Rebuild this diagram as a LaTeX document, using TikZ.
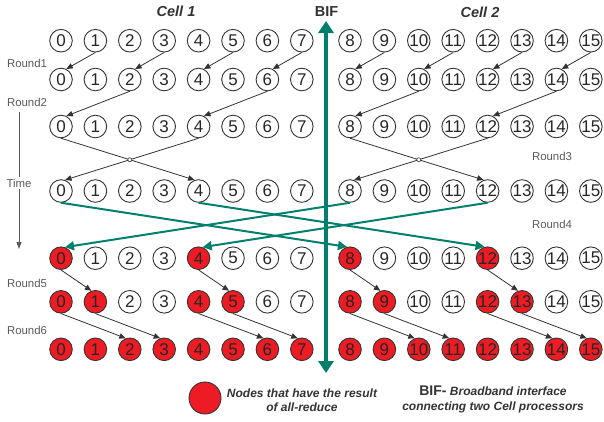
\documentclass[tikz,border=0pt]{standalone}
\usepackage{fontspec}
\setmainfont{Liberation Sans}
\usetikzlibrary{arrows.meta,intersections}
\definecolor{bifteal}{RGB}{0,128,108}
\definecolor{hotred}{RGB}{237,28,36}
\definecolor{inkgray}{RGB}{51,51,51}
\definecolor{labelgray}{RGB}{90,90,90}
% zero-width box so the digits never widen the circles
\newcommand\ctrtxt[1]{\makebox[0pt][c]{#1}}

\begin{document}
\begin{tikzpicture}[x=1pt,y=-1pt,
  pnode/.style={circle,draw=inkgray,line width=0.9pt,minimum size=22.6pt,
    inner sep=0pt,font=\fontsize{17}{17}\selectfont,text=black!85},
  rnode/.style={pnode,fill=hotred},
  darr/.style={draw=inkgray,line width=0.8pt,-{Triangle[length=6.5pt,width=5.5pt]}},
  tarr/.style={draw=bifteal,line width=2pt,-{Triangle[length=9pt,width=9pt]}},
  bifarr/.style={draw=bifteal,line width=4pt,{Triangle[length=12pt,width=15pt]}-{Triangle[length=12pt,width=15pt]}},
  timearr/.style={draw=labelgray,line width=1pt,-{Triangle[length=7pt,width=5pt]}},
  roundlbl/.style={font=\fontsize{11.4}{12}\selectfont,text=labelgray,inner sep=0pt},
  celllbl/.style={font=\fontsize{14.5}{15}\selectfont\bfseries\itshape,text=inkgray,inner sep=0pt},
  legendtxt/.style={font=\fontsize{12}{14}\selectfont\bfseries\itshape,text=inkgray,align=center,inner sep=0pt},
]
\useasboundingbox (0,0) rectangle (604,421);

% processor rows: 8 nodes per Cell, 7 time steps
\foreach \r/\yy in {1/40.7,2/79.5,3/126.5,4/191,5/258.2,6/301.8,7/349.3} {
  \foreach \c in {0,...,15} {
    \pgfmathsetmacro\xx{\c<8 ? 61+34.4*\c : 350+34.4*(\c-8)}
    \pgfmathtruncatemacro\isred{((\r==5) && (mod(\c,4)==0)) || ((\r==6) && (mod(\c,4)<2)) || (\r==7) ? 1 : 0}
    \ifnum\isred=1
      \node[rnode] (n\r-\c) at (\xx,\yy) {\ctrtxt{\c}};
    \else
      \node[pnode] (n\r-\c) at (\xx,\yy) {\ctrtxt{\c}};
    \fi
  }
}

% headings
\node[celllbl] (cellA) at (176,11) {Cell 1};
\node[celllbl] (cellB) at (480,12) {Cell 2};
\node[font=\fontsize{14.5}{15}\selectfont\bfseries,text=inkgray,inner sep=0pt] (biflbl) at (326.5,12) {BIF};

% round labels
\node[roundlbl] (rd1) at (27,63) {Round1};
\node[roundlbl] (rd2) at (27,102) {Round2};
\node[roundlbl] (rd3) at (552,156) {Round3};
\node[roundlbl] (rd4) at (552,224) {Round4};
\node[roundlbl] (rd5) at (27,283) {Round5};
\node[roundlbl] (rd6) at (27,330) {Round6};

% time axis
\coordinate (tTop) at (19,112);
\coordinate (tBot) at (19,249);
\draw[timearr] (tTop) -- (tBot);
\node[roundlbl,fill=white,inner sep=2pt] (timelbl) at (19,183) {Time};

% broadband interface between the two Cells
\coordinate (bifTop) at (326,21);
\coordinate (bifBot) at (326,373);
\draw[bifarr] (bifBot) -- (bifTop);

% round 1
\foreach \a/\b in {1/0,3/2,5/4,7/6,9/8,11/10,13/12,15/14}
  \draw[darr] (n1-\a.south) -- (n2-\b.63);
% round 2
\foreach \a/\b in {2/0,6/4,10/8,14/12}
  \draw[darr] (n2-\a.south) -- (n3-\b.63);
% round 3: pairwise exchange with a hop at each crossing
\foreach \a/\b in {0/4,8/12} {
  \draw[darr,name path=pr] (n3-\a.south) -- (n4-\b.110);
  \draw[darr,name path=pl] (n3-\b.south) -- (n4-\a.70);
  \path[name intersections={of=pr and pl,by=hop}];
  \filldraw[fill=white,draw=inkgray,line width=0.6pt] (hop) circle (2pt);
}
% round 4: across the interface
\draw[tarr] (n4-0.south) -- (n5-8.105);
\draw[tarr] (n4-4.south) -- (n5-12.105);
\draw[tarr] (n4-8.south) -- (n5-0.70);
\draw[tarr] (n4-12.south) -- (n5-4.70);
% round 5
\foreach \a/\b in {0/1,4/5,8/9,12/13}
  \draw[darr] (n5-\a.south) -- (n6-\b.110);
% round 6
\foreach \a/\b in {0/2,1/3,4/6,5/7,8/10,9/11,12/14,13/15}
  \draw[darr] (n6-\a.south) -- (n7-\b.110);

% legend
\node[rnode,minimum size=32pt] (legdot) at (205,398) {};
\node[legendtxt] (legres) at (302,400) {Nodes that have the result\\of all-reduce};
\node[legendtxt] (legbif) at (493,399) {{\fontsize{14}{14}\selectfont\upshape BIF-} Broadband interface\\[1pt]connecting two Cell processors};
\end{tikzpicture}
\end{document}
